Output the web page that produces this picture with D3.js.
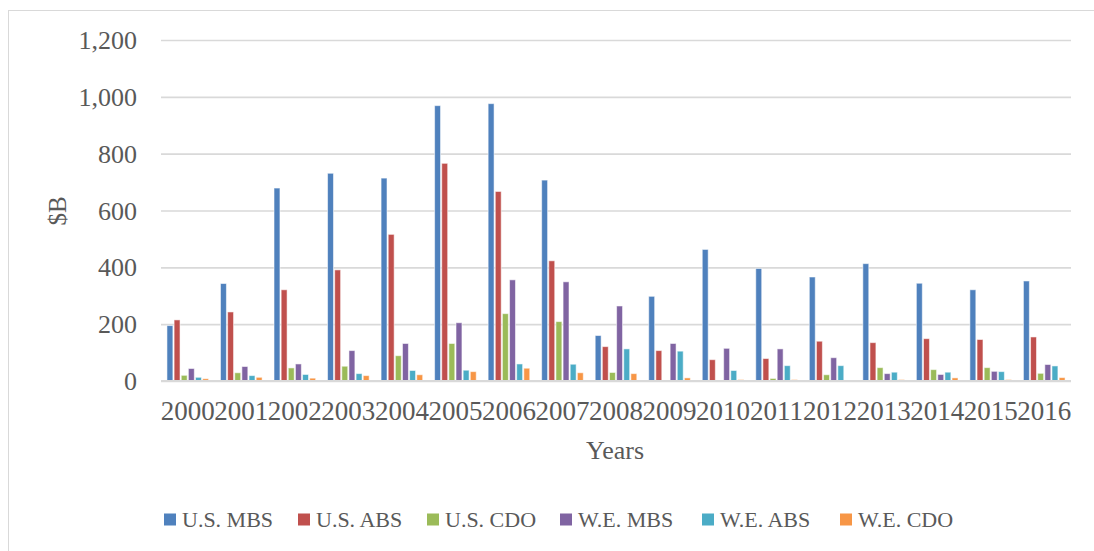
<!DOCTYPE html>
<html>
<head>
<meta charset="utf-8">
<script src="https://cdn.jsdelivr.net/npm/d3@7"></script>
<style>
  html, body { margin: 0; padding: 0; background: #fff; }
  svg { display: block; }
  text { font-family: "Liberation Serif", "DejaVu Serif", serif; fill: #595959; }
</style>
</head>
<body>
<svg id="chart" width="1094" height="551"></svg>
<script>
// Annual securitisation issuance, $B
const years = ["2000","2001","2002","2003","2004","2005","2006","2007","2008",
               "2009","2010","2011","2012","2013","2014","2015","2016"];
const seriesNames = ["U.S. MBS","U.S. ABS","U.S. CDO","W.E. MBS","W.E. ABS","W.E. CDO"];
const usMBS = [195,343,679,731,714,969,976,707,160,298,463,396,366,413,344,321,352];
const usABS = [215,243,321,391,516,766,667,423,121,107,75,79,140,135,149,146,155];
const usCDO = [20,29,46,52,89,132,237,209,30,0,2,9,22,47,40,47,27];
const weMBS = [44,51,60,107,132,205,356,349,264,132,115,113,82,26,23,34,58];
const weABS = [13,19,23,26,37,38,60,59,113,105,37,54,54,31,31,33,53];
const weCDO = [8,13,10,19,22,33,45,29,26,11,5,5,2,5,11,5,12];
const yTicks = [0,200,400,600,800,1000,1200];

const seriesValues = [usMBS, usABS, usCDO, weMBS, weABS, weCDO];
const colors = ["#4F81BD","#C0504D","#9BBB59","#8064A2","#4BACC6","#F79646"];

const svg = d3.select("#chart");

// outer chart frame
svg.append("rect")
  .attr("x", 8.5).attr("y", 10.5)
  .attr("width", 1100).attr("height", 560)
  .attr("fill", "none").attr("stroke", "#d9d9d9").attr("stroke-width", 1);

const plot = { left: 161, right: 1071, top: 40, bottom: 381 };

const x0 = d3.scaleBand().domain(years).range([plot.left, plot.right]).paddingInner(0).paddingOuter(0);
const x1 = d3.scaleBand().domain(seriesNames)
  .range([x0.bandwidth() * 0.1, x0.bandwidth() * 0.9]).paddingInner(0);
const y = d3.scaleLinear().domain([0, 1200]).range([plot.bottom, plot.top]);

// gridlines and value labels
const yAxis = d3.axisLeft(y).tickValues(yTicks)
  .tickSize(-(plot.right - plot.left)).tickPadding(24)
  .tickFormat(d3.format(","));
const gy = svg.append("g").attr("transform", `translate(${plot.left},0)`).call(yAxis);
gy.select(".domain").remove();
gy.selectAll(".tick line").attr("stroke", "#d9d9d9").attr("stroke-width", 1.6);
gy.selectAll(".tick text")
  .attr("font-size", 26).attr("fill", "#595959")
  .attr("dy", "0.33em");

// bars
const groups = svg.append("g").selectAll("g")
  .data(seriesNames.map((name, i) => ({ name, values: seriesValues[i], color: colors[i] })))
  .join("g")
  .attr("fill", d => d.color);

groups.selectAll("rect")
  .data(d => d.values.map((v, j) => ({ series: d.name, year: years[j], value: v })))
  .join("rect")
  .attr("x", d => x0(d.year) + x1(d.series) + 0.6)
  .attr("width", x1.bandwidth() - 1.2)
  .attr("y", d => y(d.value))
  .attr("height", d => y(0) - y(d.value))
  .attr("stroke", "rgba(255,255,255,0.55)")
  .attr("stroke-width", 1);

// category axis baseline
svg.append("line")
  .attr("x1", plot.left).attr("x2", plot.right)
  .attr("y1", y(0)).attr("y2", y(0))
  .attr("stroke", "#d9d9d9").attr("stroke-width", 2);

// year labels
const xAxis = d3.axisBottom(x0).tickSize(0).tickPadding(0);
const gx = svg.append("g").attr("transform", `translate(0,${plot.bottom})`).call(xAxis);
gx.select(".domain").remove();
gx.selectAll(".tick text")
  .attr("font-size", 27).attr("fill", "#595959")
  .attr("y", 39).attr("dy", 0);

// axis titles
svg.append("text")
  .attr("x", 615).attr("y", 459)
  .attr("text-anchor", "middle").attr("font-size", 26)
  .text("Years");

svg.append("text")
  .attr("transform", "translate(66,211) rotate(-90)")
  .attr("text-anchor", "middle").attr("font-size", 25)
  .text("$B");

// legend
const legendX = [164, 298, 427, 560, 702, 840];
const legend = svg.append("g").selectAll("g")
  .data(seriesNames)
  .join("g")
  .attr("transform", (d, i) => `translate(${legendX[i]},0)`);

legend.append("rect")
  .attr("x", 0).attr("y", 513.5)
  .attr("width", 12).attr("height", 12)
  .attr("fill", (d, i) => colors[i]);

legend.append("text")
  .attr("x", 18).attr("y", 527)
  .attr("font-size", 22)
  .text(d => d);
</script>
</body>
</html>
